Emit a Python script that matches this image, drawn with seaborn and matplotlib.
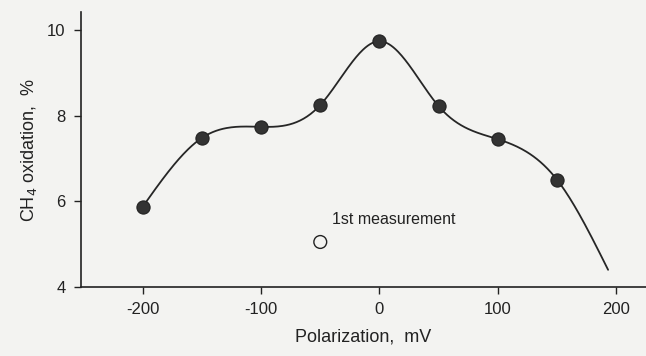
import numpy as np
import pandas as pd
import seaborn as sns
import matplotlib.pyplot as plt

# measured points
polarization = [-200, -150, -100, -50, 0, 50, 100, 150]
oxidation = [5.87, 7.48, 7.74, 8.25, 9.74, 8.22, 7.45, 6.5]
# the drawn curve runs on past the last point
curve_end_x = [193]
curve_end_y = [4.4]
# open circle
first_x = [-50]
first_y = [5.05]


def natural_spline(x, y, n=400):
    # plain natural cubic spline for the smooth line through the points
    x = np.asarray(x, float)
    y = np.asarray(y, float)
    k = len(x)
    h = np.diff(x)
    A = np.zeros((k, k))
    b = np.zeros(k)
    A[0, 0] = A[-1, -1] = 1
    for i in range(1, k - 1):
        A[i, i - 1] = h[i - 1]
        A[i, i] = 2 * (h[i - 1] + h[i])
        A[i, i + 1] = h[i]
        b[i] = 6 * ((y[i + 1] - y[i]) / h[i] - (y[i] - y[i - 1]) / h[i - 1])
    M = np.linalg.solve(A, b)
    xs = np.linspace(x[0], x[-1], n)
    j = np.clip(np.searchsorted(x, xs) - 1, 0, k - 2)
    t0 = x[j + 1] - xs
    t1 = xs - x[j]
    hj = h[j]
    ys = (M[j] * t0 ** 3 + M[j + 1] * t1 ** 3) / (6 * hj) \
        + (y[j] / hj - M[j] * hj / 6) * t0 + (y[j + 1] / hj - M[j + 1] * hj / 6) * t1
    return xs, ys


sns.set_style('ticks')
plt.rcParams['font.family'] = ['Liberation Sans', 'DejaVu Sans']
plt.rcParams['axes.unicode_minus'] = False

cx, cy = natural_spline(polarization + curve_end_x, oxidation + curve_end_y)
df_curve = pd.DataFrame({'x': cx, 'y': cy})
df_pts = pd.DataFrame({'x': polarization, 'y': oxidation})

fig = plt.figure(figsize=(6.46, 3.56), dpi=100, facecolor='#f3f3f1')
ax = fig.add_axes([0.1254, 0.194, 0.8746, 0.772])
ax.set_facecolor('#f3f3f1')

sns.lineplot(data=df_curve, x='x', y='y', color='#262626', linewidth=1.3, ax=ax, sort=False)
sns.scatterplot(data=df_pts, x='x', y='y', color='#333333', s=90, edgecolor='#222222',
                linewidth=0.8, zorder=3, ax=ax)
ax.scatter(first_x, first_y, s=85, facecolors='none', edgecolors='#222222', linewidths=1.0, zorder=3)
ax.text(-40, 5.58, '1st measurement', fontsize=11.5, color='#222222', va='center')

ax.set_xlim(-252, 225)
ax.set_ylim(4, 10.42)
ax.set_xticks([-200, -100, 0, 100, 200])
ax.set_yticks([4, 6, 8, 10])
ax.tick_params(labelsize=12, length=5, width=1, color='#222222', labelcolor='#222222', pad=6)
ax.set_xlabel('Polarization,  mV', fontsize=13, color='#222222', labelpad=8)
ax.set_ylabel('CH$_4$ oxidation,  %', fontsize=13, color='#222222', labelpad=6)
for s in ['top', 'right']:
    ax.spines[s].set_visible(False)
for s in ['left', 'bottom']:
    ax.spines[s].set_color('#222222')
    ax.spines[s].set_linewidth(1.2)

fig.savefig('out.png', dpi=100, facecolor=fig.get_facecolor())
